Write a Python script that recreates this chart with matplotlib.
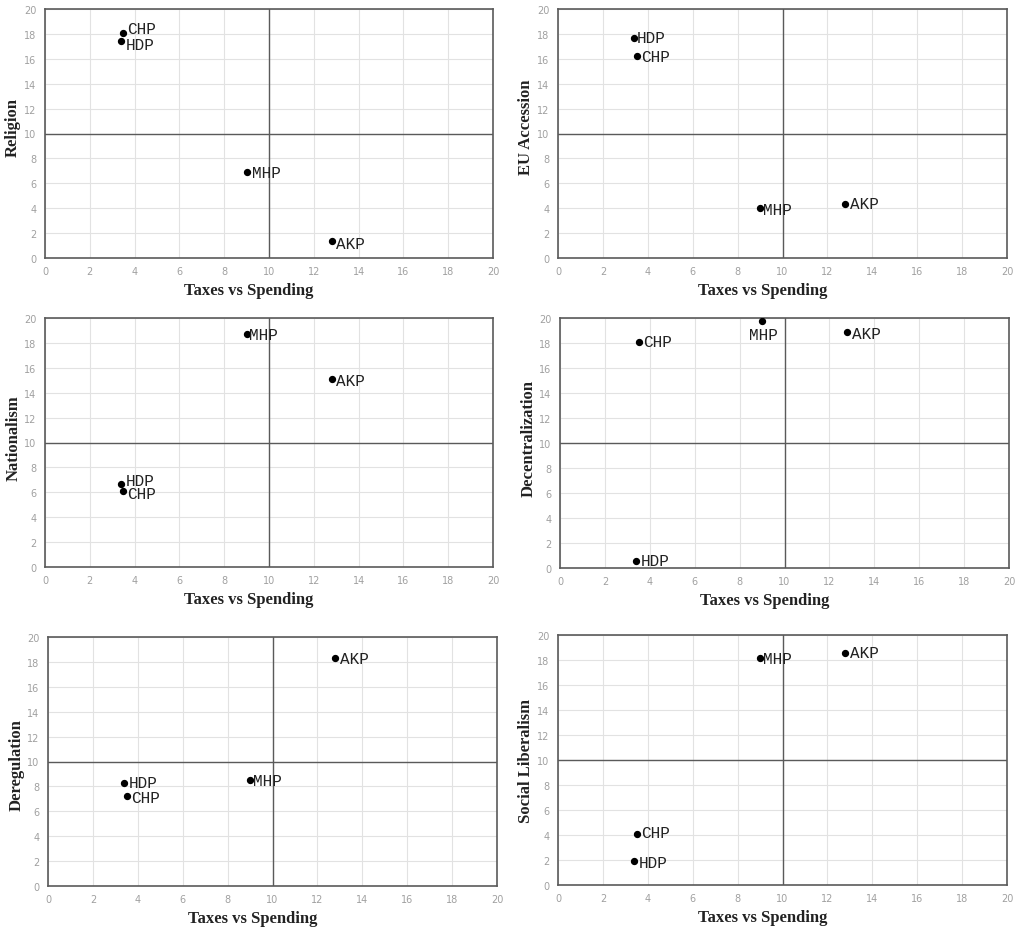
import matplotlib
matplotlib.use("Agg")
import matplotlib.pyplot as plt

# ---------------- data ----------------
parties = ["HDP", "CHP", "MHP", "AKP"]
taxes_vs_spending = [3.4, 3.5, 9.0, 12.8]
religion = [17.4, 18.1, 6.9, 1.4]
eu_accession = [17.7, 16.2, 4.0, 4.3]
nationalism = [6.7, 6.1, 18.7, 15.1]
decentralization = [0.6, 18.1, 19.8, 18.9]
deregulation = [8.3, 7.2, 8.5, 18.3]
social_liberalism = [1.9, 4.1, 18.2, 18.6]

x_label = "Taxes vs Spending"
y_labels = ["Religion", "EU Accession", "Nationalism",
            "Decentralization", "Deregulation", "Social Liberalism"]
y_series = [religion, eu_accession, nationalism,
            decentralization, deregulation, social_liberalism]
tick_values = list(range(0, 21, 2))

# ---------------- layout / style ----------------
W, H = 1015, 928
# axes boxes in pixels: (left, top, right, bottom)
boxes = [
    (45, 10, 493, 259),
    (558, 10, 1007, 259),
    (45, 319, 493, 568),
    (560, 319, 1009, 569),
    (48, 638, 497, 887),
    (558, 636, 1007, 886),
]
ylabel_y = [0.53, 0.53, 0.52, 0.52, 0.49, 0.50]
# label offsets in points per panel, per party (HDP, CHP, MHP, AKP)
offsets = [
    [(3, -2, "left"), (3, 3, "left"), (4, 0, "left"), (3, -2, "left")],
    [(2, 0, "left"), (3, 0, "left"), (2, -1, "left"), (3, 1, "left")],
    [(3, 2, "left"), (3, -2, "left"), (2, 0, "left"), (3, -1, "left")],
    [(3, 0, "left"), (3, 0, "left"), (1, -10, "center"), (3, -1, "left")],
    [(3, 0, "left"), (3, -1, "left"), (2, 0, "left"), (3, 0, "left")],
    [(3, -1, "left"), (3, 1, "left"), (2, -1, "left"), (3, 0, "left")],
]

axis_col = "#5a5a5a"
grid_col = "#e2e2e2"
tick_col = "#a0a0a0"

fig = plt.figure(figsize=(W / 100, H / 100), dpi=100)
fig.patch.set_facecolor("white")

for i, (ys, ylab, box) in enumerate(zip(y_series, y_labels, boxes)):
    l, t, r, b = box
    ax = fig.add_axes([l / W, 1 - b / H, (r - l) / W, (b - t) / H])
    ax.set_xlim(0, 20)
    ax.set_ylim(0, 20)
    ax.set_xticks(tick_values)
    ax.set_yticks(tick_values)
    ax.grid(True, color=grid_col, linewidth=0.8)
    ax.set_axisbelow(True)
    ax.axvline(10, color=axis_col, linewidth=1.0, zorder=1)
    ax.axhline(10, color=axis_col, linewidth=1.0, zorder=1)
    for s in ax.spines.values():
        s.set_color(axis_col)
        s.set_linewidth(1.2)
    ax.tick_params(axis="both", length=0, labelsize=7, labelcolor=tick_col, pad=6)
    ax.scatter(taxes_vs_spending, ys, s=18, color="black", zorder=3)
    for p, x, y, (dx, dy, ha) in zip(parties, taxes_vs_spending, ys, offsets[i]):
        ax.annotate(p, (x, y), xytext=(dx, dy), textcoords="offset points",
                    ha=ha, va="center", fontsize=11.5, color="#222222",
                    family="Liberation Mono", zorder=4)
    ax.set_xlabel(x_label, family="Liberation Serif", fontweight="bold",
                  fontsize=12, color="#222222")
    ax.xaxis.set_label_coords(0.455, -0.097)
    ax.set_ylabel(ylab, family="Liberation Serif", fontweight="bold",
                  fontsize=12, color="#222222")
    ax.yaxis.set_label_coords(-0.053, ylabel_y[i])

fig.savefig("out.png", dpi=100, facecolor="white")
